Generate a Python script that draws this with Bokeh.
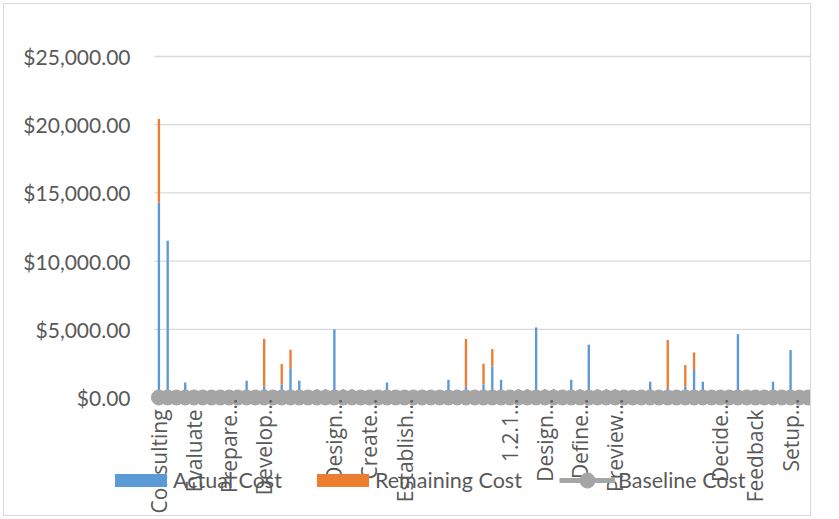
import math
from bokeh.plotting import figure
from bokeh.models import (Range1d, FixedTicker, NumeralTickFormatter, Legend,
                          LegendItem, ColumnDataSource)
from bokeh.embed import file_html
from bokeh.resources import INLINE

# ---- data ----
# 75 tasks on the x axis; Excel shows every 4th task name
tick_labels = ["Consulting", "Evaluate", "Prepare...", "Develop...", "",
               "Design...", "Create...", "Establish...", "", "",
               "1.2.1...", "Design...", "Define...", "Preview...", "", "",
               "Decide...", "Feedback", "Setup..."]
label_every = 4

actual_cost = [14300, 11500, 0, 1100, 0, 0, 0, 0, 0, 0,
               1230, 0, 800, 0, 950, 2150, 1230, 0, 600, 600,
               5000, 600, 600, 0, 0, 0, 1100, 0, 0, 0,
               0, 0, 0, 1300, 0, 790, 0, 960, 2260, 1300,
               0, 600, 600, 5140, 600, 600, 0, 1300, 600, 3870,
               600, 600, 600, 0, 0, 0, 1160, 0, 700, 0,
               810, 2015, 1160, 0, 0, 0, 4650, 0, 0, 0,
               1160, 0, 3480, 0, 0]
remaining_cost = [6120, 0, 0, 0, 0, 0, 0, 0, 0, 0,
                  0, 0, 3500, 0, 1500, 1350, 0, 0, 0, 0,
                  0, 0, 0, 0, 0, 0, 0, 0, 0, 0,
                  0, 0, 0, 0, 0, 3500, 0, 1520, 1290, 0,
                  0, 0, 0, 0, 0, 0, 0, 0, 0, 0,
                  0, 0, 0, 0, 0, 0, 0, 0, 3515, 0,
                  1570, 1285, 0, 0, 0, 0, 0, 0, 0, 0,
                  0, 0, 0, 0, 0]
baseline_cost = [0] * 75
y_ticks = [0, 5000, 10000, 15000, 20000, 25000]

# ---- styling ----
BLUE = "#5B9BD5"
ORANGE = "#ED7D31"
GRAY = "#A5A5A5"
TEXT = "#595959"
GRID = "#D9D9D9"
NB = "\u00a0"

n = len(actual_cost)
task_pos = list(range(n))
src = ColumnDataSource(dict(x=task_pos, actual=actual_cost,
                            remaining=remaining_cost, baseline=baseline_cost))

# the frame fills the whole canvas (so the legend, drawn below the
# category labels, is not clipped); the axes are pinned with fixed_location
x_lo, x_hi = -0.5, n - 0.5
p = figure(width=808, height=513, output_backend="svg", toolbar_location=None,
           x_range=Range1d(-17.6, x_hi), y_range=Range1d(-8798, 28812),
           min_border_left=0, min_border_right=0,
           min_border_top=0, min_border_bottom=0)
p.styles = {"border": "1px solid #D9D9D9", "margin-left": "3px",
            "margin-top": "3px"}
p.outline_line_color = None
p.background_fill_color = "white"
p.border_fill_color = "white"
p.xgrid.grid_line_color = None
p.ygrid.grid_line_color = None

# horizontal gridlines spanning the category range only
p.segment(x0=[x_lo] * len(y_ticks), x1=[x_hi] * len(y_ticks),
          y0=y_ticks, y1=y_ticks, line_color=GRID, line_width=1.3)

bars = p.vbar_stack(["actual", "remaining"], x="x", width=0.27,
                    color=[BLUE, ORANGE], line_color=None, source=src)
ln = p.line("x", "baseline", source=src, line_color=GRAY, line_width=5)
sc = p.scatter("x", "baseline", source=src, size=15, fill_color=GRAY,
               line_color=GRAY)

# axes
ticks = [i * label_every for i, t in enumerate(tick_labels) if t]
p.xaxis.ticker = FixedTicker(ticks=ticks)
p.xaxis.major_label_overrides = {
    i * label_every: (t if t.endswith("...") else t + NB * 2)
    for i, t in enumerate(tick_labels) if t}
p.xaxis.fixed_location = 0
p.xaxis.major_label_orientation = math.pi / 2
p.xaxis.major_label_text_font = "Open Sans"
p.xaxis.major_label_text_font_size = "21px"
p.xaxis.major_label_text_color = TEXT
p.xaxis.axis_line_color = None
p.xaxis.major_tick_line_color = None
p.xaxis.minor_tick_line_color = None
p.xaxis.major_tick_out = 0
p.xaxis.major_tick_in = 0
p.xaxis.major_label_standoff = 1

p.yaxis.ticker = FixedTicker(ticks=y_ticks)
p.yaxis.formatter = NumeralTickFormatter(format="$0,0.00")
p.yaxis.fixed_location = x_lo
p.yaxis.major_label_text_font = "Lato"
p.yaxis.major_label_text_font_size = "21px"
p.yaxis.major_label_text_color = TEXT
p.yaxis.axis_line_color = None
p.yaxis.major_tick_line_color = None
p.yaxis.minor_tick_line_color = None
p.yaxis.major_tick_out = 0
p.yaxis.major_tick_in = 0
p.yaxis.major_label_standoff = 24


def make_legend(label, renderers, loc, gw, gh, standoff):
    return Legend(items=[LegendItem(label=label, renderers=renderers)],
                  location=loc, orientation="horizontal",
                  glyph_width=gw, glyph_height=gh, label_standoff=standoff,
                  label_height=16, padding=0, margin=0, spacing=0,
                  border_line_color=None, background_fill_alpha=0,
                  label_text_font="Lato", label_text_font_size="21.5px",
                  label_text_color=TEXT)


p.add_layout(make_legend("Actual Cost", [bars[0]], (104, 24), 65, 16, 0), "center")
p.add_layout(make_legend("Remaining Cost", [bars[1]], (306, 24), 65, 16, 0), "center")
p.add_layout(make_legend("Baseline Cost", [ln, sc], (555, 18), 56, 38, 3), "center")

open("out.html", "w").write(file_html(p, INLINE))
